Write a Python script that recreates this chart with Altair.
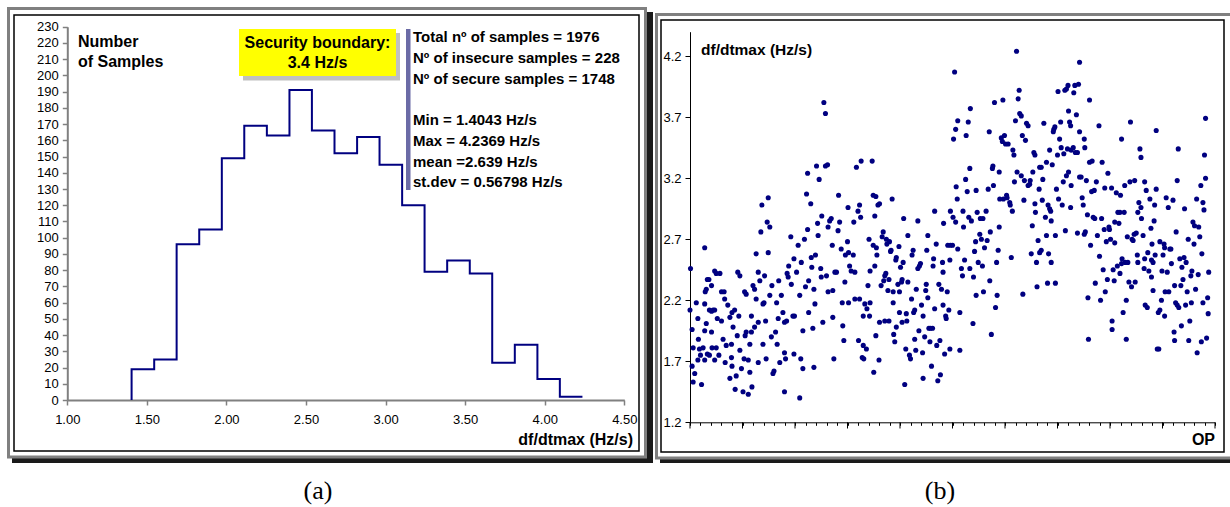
import altair as alt
import pandas as pd

# ---------------- data ----------------
# (a) histogram of df/dtmax: 20 equal bins between Min and Max
bin_edges = [1.404, 1.546, 1.687, 1.829, 1.971, 2.112, 2.254, 2.396, 2.537, 2.679,
             2.821, 2.962, 3.104, 3.245, 3.387, 3.529, 3.670, 3.812, 3.954, 4.095, 4.237]
bin_counts = [19, 25, 96, 105, 149, 169, 163, 191, 166, 152,
              162, 145, 120, 79, 86, 78, 23, 34, 13, 2]
hist_ticks_x = [1.0, 1.5, 2.0, 2.5, 3.0, 3.5, 4.0, 4.5]
hist_ticks_y = list(range(0, 240, 10))

# (b) scatter of df/dtmax by operating point (OP)
scatter_ticks_y = [1.2, 1.7, 2.2, 2.7, 3.2, 3.7, 4.2]
op_minor_ticks = list(range(0, 1001, 20))
op_major_ticks = list(range(0, 1001, 100))

op_a = [1, 0, 4, 6, 4, 6, 9, 12, 15, 16,
        18, 20, 22, 15, 28, 29, 31, 33, 28, 31,
        28, 25, 28, 33, 36, 41, 37, 41, 41, 37,
        42, 44, 47, 50, 47, 52, 50, 47, 55, 57,
        60, 65, 60, 63, 66, 67, 69, 72, 76, 79,
        80, 79, 82, 76, 80, 85, 88, 91, 95, 90,
        86, 93, 95, 98, 101, 104, 107, 105, 103, 107,
        111, 111, 114, 114, 117, 118, 120, 117, 123, 126,
        126, 130, 130, 130, 133, 123, 135, 137, 139, 141,
        142, 139, 144, 145, 147, 152, 149, 149, 152, 155,
        158, 160, 156, 163, 165, 166, 168, 169, 171, 174,
        177, 180, 182, 180, 184, 180, 185, 187, 188, 192,
        193, 196, 198, 199, 198, 203, 206, 209, 211, 212,
        209, 215, 215, 218, 222, 224, 224, 220, 226, 226,
        230, 231, 232, 234, 236, 236, 238, 239, 241, 243,
        244, 246, 249, 250, 253, 251, 255, 258, 258, 262,
        260, 263, 263, 266, 269, 271, 272, 272, 274, 276,
        279, 282, 283, 285, 288, 290, 291, 293, 295, 296,
        300, 301, 302, 304, 302, 307, 311, 312, 314, 314,
        317, 320, 323, 323, 325, 326, 321, 328, 330, 333,
        330, 331]
dfdt_a = [2.46, 2.12, 1.96, 1.81, 1.66, 1.53, 1.60, 2.18, 2.05, 1.88,
          1.80, 1.75, 1.51, 1.71, 2.63, 2.27, 2.29, 2.37, 2.17, 2.01,
          1.95, 1.81, 1.71, 1.76, 2.37, 2.32, 2.12, 2.11, 1.94, 1.75,
          1.81, 2.12, 2.44, 2.42, 2.12, 2.05, 1.81, 1.71, 1.75, 2.42,
          2.27, 2.27, 2.03, 1.88, 2.21, 1.69, 1.83, 2.16, 2.06, 1.73,
          1.66, 1.84, 1.98, 1.56, 2.10, 2.12, 1.58, 2.43, 2.40, 1.91,
          1.47, 2.07, 1.79, 1.64, 1.45, 2.27, 2.25, 1.91, 1.72, 1.94,
          1.43, 1.71, 1.61, 1.84, 1.94, 1.49, 2.32, 2.07, 2.29, 2.21,
          2.58, 2.43, 2.02, 1.69, 2.36, 1.98, 2.76, 2.98, 2.17, 2.18,
          2.40, 1.84, 2.03, 1.72, 2.84, 2.80, 3.04, 2.59, 2.24, 1.90,
          1.60, 1.62, 2.32, 1.94, 2.18, 1.84, 2.05, 2.36, 1.69, 2.24,
          2.10, 1.77, 1.72, 2.02, 2.03, 1.45, 2.42, 2.39, 2.48, 2.72,
          2.33, 2.07, 2.54, 2.07, 1.76, 2.43, 2.65, 1.40, 1.72, 2.51,
          2.24, 1.95, 1.64, 2.70, 3.07, 2.78, 3.24, 2.31, 2.10, 2.36,
          2.99, 2.55, 2.47, 1.97, 2.29, 1.65, 2.17, 2.57, 3.30, 2.83,
          2.73, 3.19, 2.46, 2.39, 2.02, 2.89, 3.82, 3.73, 3.30, 3.31,
          2.40, 2.80, 2.27, 2.85, 2.87, 2.65, 2.28, 2.06, 1.72, 2.43,
          2.43, 2.77, 3.06, 2.84, 2.62, 2.18, 1.99, 1.87, 2.35, 2.57,
          2.68, 2.96, 2.59, 2.48, 2.18, 2.44, 2.57, 2.84, 2.43, 2.21,
          3.29, 2.93, 2.98, 2.21, 2.88, 3.34, 1.87, 1.73, 2.07, 2.17,
          1.83, 1.72]

op_b = [336, 337, 339, 341, 343, 342, 343, 347, 349, 354,
        352, 349, 355, 352, 350, 354, 356, 358, 361, 360,
        361, 364, 366, 368, 369, 371, 373, 371, 374, 375,
        377, 379, 379, 380, 382, 385, 383, 387, 387, 388,
        390, 392, 393, 393, 396, 398, 399, 399, 401, 403,
        404, 404, 406, 407, 409, 411, 412, 413, 415, 415,
        418, 420, 422, 423, 425, 426, 428, 428, 430, 431,
        434, 434, 437, 439, 436, 441, 443, 444, 444, 447,
        449, 450, 451, 453, 455, 457, 453, 458, 462, 460,
        463, 464, 466, 466, 469, 470, 472, 474, 476, 477,
        479, 481, 482, 483, 482, 485, 487, 488, 490, 491,
        496, 493, 495, 495, 496, 500, 501, 502, 504, 506,
        507, 509, 510, 506, 510, 514, 514, 517, 519, 520,
        521, 523, 525, 526, 528, 530, 531, 533, 534, 533,
        536, 539, 540, 542, 544, 545, 547, 545, 549, 552,
        553, 555, 557, 558, 559, 561, 564, 566, 568, 570,
        571, 572, 574, 576, 577, 578, 580, 582, 584, 585,
        587, 589, 589, 590, 593, 595, 596, 597, 599, 601,
        603, 604, 606, 609, 610, 612, 614, 615, 617, 618,
        620, 622, 623, 625, 627, 628, 631, 631, 633, 634,
        636, 639, 637, 641, 644, 644, 647, 648, 650, 652,
        655, 657, 653, 657, 658, 660, 661, 663, 665, 666,
        666]
dfdt_b = [1.80, 2.13, 2.32, 2.70, 2.44, 2.07, 2.18, 3.34, 3.06, 3.05,
          2.89, 2.65, 2.63, 2.48, 1.61, 1.91, 2.57, 2.98, 2.99, 1.71,
          2.02, 2.32, 2.72, 2.76, 2.36, 2.40, 2.42, 2.03, 2.70, 2.66,
          2.28, 2.37, 2.03, 2.68, 2.60, 3.03, 2.61, 2.27, 2.18, 1.92,
          1.86, 2.53, 2.55, 1.98, 2.33, 2.64, 2.27, 2.10, 2.47, 2.35,
          2.37, 2.02, 2.51, 2.87, 1.51, 1.80, 2.09, 2.03, 2.73, 2.35,
          1.75, 1.72, 2.21, 2.57, 2.61, 2.10, 2.12, 1.88, 1.79, 2.29,
          2.85, 2.46, 2.48, 2.50, 1.95, 2.16, 1.77, 1.56, 2.07, 1.90,
          2.28, 2.33, 2.61, 2.73, 1.97, 1.86, 2.22, 1.97, 1.97, 1.66,
          2.48, 2.54, 2.93, 2.13, 2.66, 1.83, 1.54, 2.33, 1.87, 1.59,
          2.29, 2.51, 2.43, 2.83, 2.16, 1.76, 2.07, 2.05, 2.27, 2.65,
          2.65, 2.12, 1.80, 2.53, 2.93, 2.65, 2.88, 3.52, 4.07, 3.60,
          3.13, 3.03, 2.62, 2.84, 3.67, 2.10, 1.79, 2.46, 2.40, 2.93,
          2.80, 2.53, 3.19, 3.55, 3.09, 3.66, 2.88, 3.28, 3.77, 2.46,
          2.85, 2.01, 2.39, 2.60, 2.68, 3.10, 2.92, 2.24, 2.51, 2.74,
          2.87, 2.70, 2.48, 2.87, 2.27, 2.63, 2.93, 2.69, 3.11, 3.58,
          2.36, 2.76, 1.92, 3.28, 3.30, 3.14, 3.82, 2.14, 2.51, 2.24,
          2.61, 2.80, 3.25, 3.03, 3.53, 3.50, 3.84, 3.03, 3.55, 3.48,
          3.06, 3.04, 3.48, 3.00, 2.98, 2.55, 2.93, 3.43, 3.39, 3.17,
          3.67, 4.24, 3.25, 3.85, 3.92, 3.73, 3.71, 3.22, 3.55, 2.25,
          3.02, 3.51, 3.18, 3.65, 3.63, 3.14, 3.15, 3.18, 2.58, 2.81,
          3.41, 3.39, 3.25, 2.99, 2.92, 2.51, 2.31, 2.69, 3.11, 3.29,
          2.59]

op_c = [669, 671, 672, 674, 677, 679, 669, 679, 682, 685,
        683, 687, 688, 685, 690, 688, 681, 692, 693, 695,
        696, 696, 698, 700, 701, 704, 706, 702, 707, 709,
        711, 712, 714, 717, 715, 717, 719, 720, 721, 723,
        721, 725, 726, 725, 726, 730, 731, 733, 734, 736,
        738, 738, 740, 742, 742, 742, 745, 747, 749, 751,
        752, 751, 753, 755, 757, 758, 759, 761, 761, 763,
        765, 766, 768, 770, 771, 772, 774, 776, 779, 780,
        782, 784, 785, 787, 789, 790, 791, 793, 795, 796,
        798, 799, 801, 803, 804, 804, 806, 808, 809, 809,
        812, 814, 815, 819, 817, 819, 820, 822, 822, 825,
        823, 827, 828, 829, 831, 831, 833, 834, 836, 838,
        839, 841, 842, 844, 846, 847, 848, 850, 852, 853,
        853, 855, 857, 859, 859, 860, 863, 865, 866, 866,
        867, 869, 871, 872, 874, 876, 878, 879, 879, 882,
        880, 882, 884, 885, 886, 888, 888, 890, 892, 895,
        893, 895, 898, 899, 901, 903, 904, 904, 905, 907,
        909, 911, 912, 914, 916, 917, 920, 922, 923, 923,
        925, 926, 928, 930, 928, 931, 933, 935, 936, 937,
        939, 941, 942, 944, 945, 947, 949, 950, 952, 954,
        955, 956, 958, 960, 961, 963, 965, 966, 968, 969,
        971, 973, 974, 975, 977, 977, 979, 980, 982, 982,
        984, 986, 987, 988]
dfdt_c = [3.29, 3.02, 3.19, 3.65, 2.88, 3.33, 2.61, 2.73, 2.98, 2.95,
          2.58, 2.93, 2.51, 3.43, 3.31, 2.85, 2.34, 3.58, 3.60, 3.62,
          2.73, 2.34, 3.11, 3.39, 3.91, 3.52, 3.66, 3.03, 3.45, 2.98,
          3.17, 3.40, 3.92, 3.93, 2.77, 3.22, 3.44, 3.96, 3.75, 3.66,
          3.25, 3.63, 3.43, 2.96, 3.14, 3.45, 3.90, 3.96, 3.41, 3.72,
          3.41, 2.75, 3.97, 4.15, 3.58, 3.21, 3.21, 3.04, 2.98, 3.52,
          3.45, 2.74, 2.76, 3.18, 2.90, 2.22, 1.88, 3.84, 3.33, 2.65,
          3.09, 3.34, 2.88, 3.10, 2.87, 2.34, 3.17, 2.73, 3.63, 2.56,
          2.20, 2.87, 3.33, 2.45, 2.78, 3.12, 2.27, 2.68, 2.37, 3.24,
          2.80, 2.78, 2.70, 3.12, 1.96, 2.03, 2.45, 2.36, 2.84, 2.67,
          3.08, 2.48, 2.92, 2.92, 2.83, 2.42, 3.06, 3.52, 2.50, 2.10,
          2.54, 2.92, 3.14, 2.51, 1.88, 2.20, 2.72, 2.51, 2.35, 3.17,
          3.66, 2.31, 2.70, 2.69, 2.74, 3.18, 2.35, 2.75, 2.57, 2.51,
          2.92, 3.00, 3.44, 3.37, 2.96, 2.87, 2.73, 2.46, 2.54, 3.17,
          2.16, 3.10, 2.14, 2.59, 2.44, 3.03, 2.79, 2.39, 2.53, 2.28,
          2.66, 2.51, 2.85, 2.98, 2.57, 3.11, 3.59, 1.80, 2.10, 2.12,
          1.80, 2.68, 2.20, 2.44, 2.57, 2.66, 2.63, 2.07, 2.27, 3.04,
          2.43, 2.96, 2.27, 2.62, 2.62, 2.50, 3.02, 1.94, 1.87, 2.32,
          2.18, 2.76, 2.16, 3.44, 3.18, 2.14, 2.54, 2.32, 1.99, 2.47,
          2.37, 2.55, 2.95, 2.16, 2.51, 2.27, 2.70, 1.87, 2.03, 2.40,
          2.18, 2.44, 2.84, 2.66, 2.81, 2.29, 3.03, 1.77, 2.41, 2.80,
          2.72, 3.14, 1.86, 2.58, 3.00, 2.18, 2.94, 3.39, 3.69, 3.20,
          1.89, 2.22, 2.09, 2.43]

# texts
number_label = ["Number", "of Samples"]
boundary_label = ["Security boundary:", "3.4 Hz/s"]
count_lines = ["Total nº of samples = 1976", "Nº of insecure samples = 228",
               "Nº of secure samples = 1748"]
stat_lines = ["Min = 1.4043 Hz/s", "Max = 4.2369 Hz/s", "mean =2.639 Hz/s",
              "st.dev = 0.56798 Hz/s"]
hist_xtitle = "df/dtmax (Hz/s)"
scatter_ytitle = "df/dtmax (Hz/s)"
scatter_xtitle = "OP"
captions = ["(a)", "(b)"]

FONT = "Liberation Sans"
NAVY = "#000080"
one = pd.DataFrame({"k": [0]})

# ---------------- helpers for decorations ----------------
def box(x, x2, y, y2, **kw):
    return alt.Chart(one).mark_rect(**kw).encode(
        x=alt.value(x), x2=alt.value(x2), y=alt.value(y), y2=alt.value(y2))

def label(x, y, txt, **kw):
    base = dict(font=FONT, fontWeight="bold", fontSize=15, color="black",
                baseline="alphabetic", align="left")
    base.update(kw)
    return alt.Chart(one).mark_text(**base).encode(
        x=alt.value(x), y=alt.value(y), text=alt.value(txt))

# ---------------- (a) histogram ----------------
hx = [bin_edges[0]] + bin_edges[:-1] + [bin_edges[-1]]
hy = [0] + bin_counts + [bin_counts[-1]]
hist_df = pd.DataFrame({"x": hx, "n": hy, "i": list(range(len(hx)))})

axis_a_common = dict(title=None, grid=False, labelFont=FONT, labelFontSize=13,
                     labelColor="black", domainColor="#808080", tickColor="#808080",
                     domainWidth=2, tickWidth=1.5, labelOverlap=False, labelFlush=False)
hist = alt.Chart(hist_df).mark_line(interpolate="step-after", color=NAVY, strokeWidth=2).encode(
    x=alt.X("x:Q", scale=alt.Scale(domain=[1.0, 4.5], range=[67.3, 624.3], nice=False, zero=False),
            axis=alt.Axis(values=hist_ticks_x, format=".2f", orient="bottom", offset=-107,
                          tickSize=5, labelPadding=8, **axis_a_common)),
    y=alt.Y("n:Q", scale=alt.Scale(domain=[0, 230], range=[400, 26.7], nice=False, zero=False),
            axis=alt.Axis(values=hist_ticks_y, format="d", orient="left", offset=-67.3,
                          tickSize=5, labelPadding=4, **axis_a_common)),
    order="i:Q",
)

# ---------------- (b) scatter ----------------
sc_df = pd.DataFrame({"op": op_a + op_b + op_c, "v": dfdt_a + dfdt_b + dfdt_c})
axis_b_common = dict(title=None, grid=False, labelFont=FONT, labelFontSize=13,
                     labelColor="black", domainColor="black", tickColor="black",
                     domainWidth=1, tickWidth=1, labelOverlap=False, labelFlush=False)
scatter = alt.Chart(sc_df).mark_point(shape="circle", filled=True, size=26, color=NAVY, opacity=1).encode(
    x=alt.X("op:Q", scale=alt.Scale(domain=[0, 1000], range=[690, 1215], nice=False, zero=False),
            axis=alt.Axis(values=op_minor_ticks, labels=False, orient="bottom", offset=-84.7,
                          tickSize=3, **axis_b_common)),
    y=alt.Y("v:Q", scale=alt.Scale(domain=[1.2, 4.4], range=[422.3, 31.7], nice=False, zero=False),
            axis=alt.Axis(values=scatter_ticks_y, format=".1f", orient="left", offset=-690,
                          tickSize=5, labelPadding=4, **axis_b_common)),
)
major = alt.Chart(pd.DataFrame({"op": op_major_ticks})).mark_rule(color="black", strokeWidth=1).encode(
    x=alt.X("op:Q", scale=alt.Scale(domain=[0, 1000], range=[690, 1215], nice=False, zero=False), axis=None),
    y=alt.value(422.3), y2=alt.value(428.5),
)

# ---------------- frames & annotations ----------------
layers = [
    # panel (a) frame
    box(647, 653, 12, 463, color="#1a1a1a"),
    box(12, 653, 458, 463, color="#1a1a1a"),
    box(8.5, 645.5, 8.5, 457, fillOpacity=0, stroke="#808080", strokeWidth=3),
    box(14, 639, 15, 451, fillOpacity=0, stroke="black", strokeWidth=1.5),
    # panel (b) frame
    box(660, 1230, 459, 463, color="#1a1a1a"),
    box(656.5, 1232, 14.5, 458, fillOpacity=0, stroke="#808080", strokeWidth=3),
    box(661, 1224, 20, 452, fillOpacity=0, stroke="black", strokeWidth=1.5),
    # security boundary box with shadow
    box(243, 400, 33, 80.5, color="#c0c0c0"),
    box(239, 396, 29, 76, color="#ffff00"),
    # bar next to the statistics
    box(406, 410.5, 29, 190, color="#6b6ba6"),
    hist,
    scatter,
    major,
    label(78, 46.5, number_label, fontSize=16, lineHeight=20),
    label(317.5, 48, boundary_label, fontSize=16, lineHeight=20, align="center"),
    label(413, 42, count_lines, fontSize=15, lineHeight=20.8),
    label(413, 125, stat_lines, fontSize=15, lineHeight=20.8),
    label(633, 445, hist_xtitle, fontSize=16, align="right"),
    label(701, 55, scatter_ytitle, fontSize=15.5),
    label(1215, 445, scatter_xtitle, fontSize=16, align="right"),
    label(318, 499, captions[0], font="Liberation Serif", fontWeight="normal", fontSize=26, align="center"),
    label(940, 499, captions[1], font="Liberation Serif", fontWeight="normal", fontSize=26, align="center"),
]

chart = alt.layer(*layers).resolve_scale(
    x="independent", y="independent"
).properties(
    width=1230, height=507, padding=0,
    autosize=alt.AutoSizeParams(type="none"),
    background="white",
).configure_view(stroke=None)

chart.save("out.html", embed_options={"renderer": "svg", "actions": False})
